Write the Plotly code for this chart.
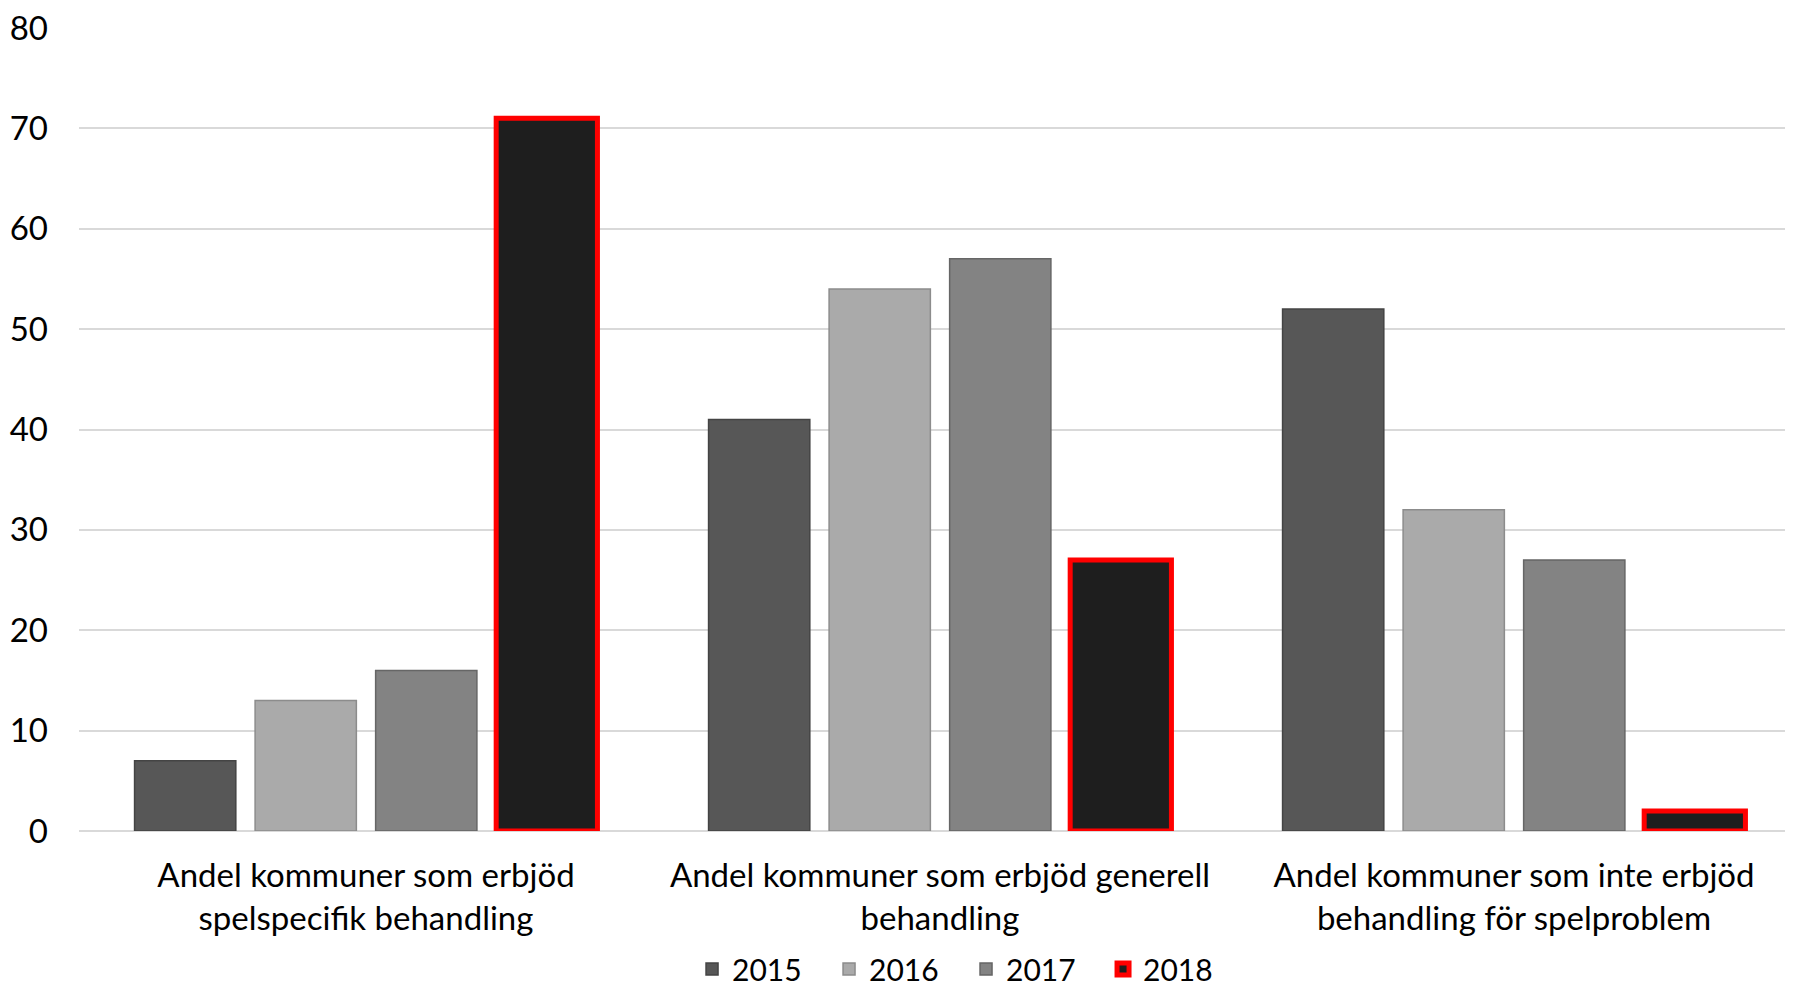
import plotly.graph_objects as go

categories = [
    "Andel kommuner som erbjöd<br>spelspecifik behandling",
    "Andel kommuner som erbjöd generell<br>behandling",
    "Andel kommuner som inte erbjöd<br>behandling för spelproblem",
]
years = ["2015", "2016", "2017", "2018"]
v2015 = [7, 41, 52]
v2016 = [13, 54, 32]
v2017 = [16, 57, 27]
v2018 = [71, 27, 2]
series = [v2015, v2016, v2017, v2018]

fills = ["#575757", "#aaaaaa", "#838383", "#1e1e1e"]
lines = ["#444444", "#8c8c8c", "#666666", "#ff0000"]
line_w = [1.5, 1.5, 1.5, 5]

fig = go.Figure()
for name, vals, fc, lc, lw in zip(years, series, fills, lines, line_w):
    fig.add_trace(go.Bar(
        x=categories, y=vals, name=name,
        marker=dict(color=fc, line=dict(color=lc, width=lw)),
    ))

font = "Lato, 'Open Sans', sans-serif"
fig.update_layout(
    width=1793, height=987,
    paper_bgcolor="white", plot_bgcolor="white",
    margin=dict(l=71, r=0, t=20, b=144),
    barmode="group", bargap=0.16, bargroupgap=0.16,
    font=dict(family=font, size=33, color="#000000"),
    showlegend=True,
    legend=dict(orientation="h", x=0.356, xanchor="left", y=-0.172, yanchor="middle",
                font=dict(size=30), itemwidth=30, traceorder="normal",
                entrywidth=92, entrywidthmode="pixels"),
    xaxis=dict(showgrid=False, showline=False, ticks="", tickfont=dict(size=33),
               automargin=False, ticklabelstandoff=22),
    yaxis=dict(range=[0, 80], dtick=10, showgrid=True, gridcolor="#d9d9d9", gridwidth=2,
               zeroline=True, zerolinecolor="#d9d9d9", zerolinewidth=2, automargin=False,
               showline=False, ticks="", ticklabelstandoff=30, tickfont=dict(size=33),
               ticklabeloverflow="allow"),
)

fig.write_html("out.html")
